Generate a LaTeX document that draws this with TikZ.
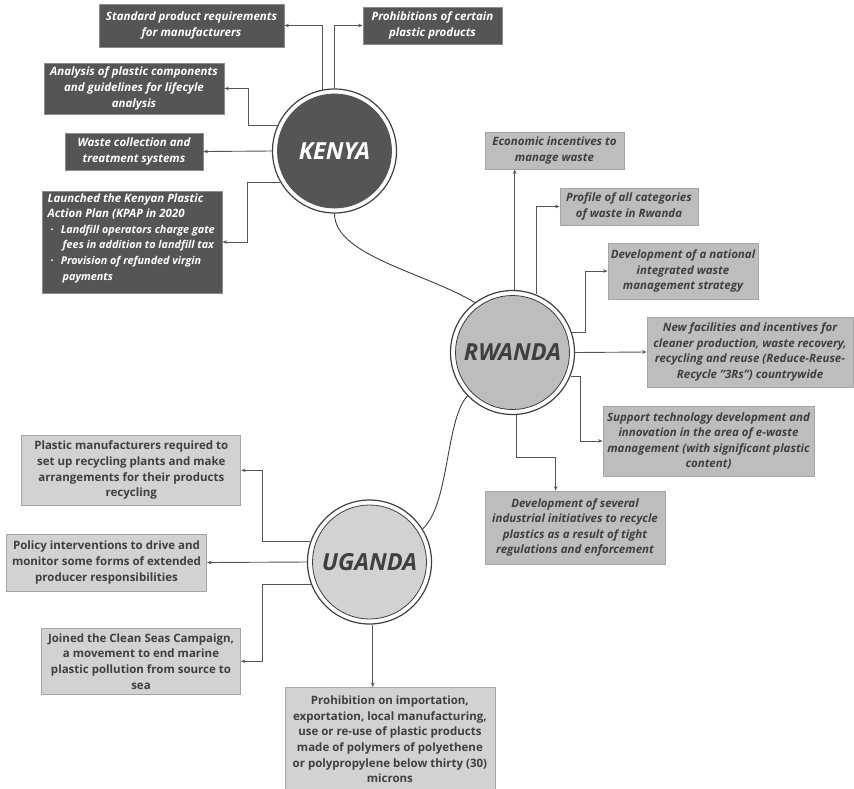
\documentclass[tikz,border=0pt]{standalone}
\usepackage{fontspec}
\setmainfont{Open Sans}
\usetikzlibrary{calc,arrows.meta}
\definecolor{kdark}{HTML}{545557}
\definecolor{kedge}{HTML}{8A8B8D}
\definecolor{rgray}{HTML}{BCBDBF}
\definecolor{ugray}{HTML}{D1D2D4}
\definecolor{bedge}{HTML}{A4A5A7}
\definecolor{txt}{HTML}{3F3F41}
\definecolor{lin}{HTML}{555557}
\newcommand\strq{\char34\relax}
\newcommand\itemfont{\fontsize{10.8}{15.6}\selectfont}
\begin{document}
\begin{tikzpicture}[x=1pt,y=-1pt,
  boxbase/.style={rectangle,inner sep=1pt,align=center,line width=0.8pt,
    font=\fontsize{11.5}{15.6}\selectfont\bfseries},
  kbox/.style={boxbase,fill=kdark,draw=kedge,text=white,font=\fontsize{11.5}{15.6}\selectfont\bfseries\itshape},
  rbox/.style={boxbase,fill=rgray,draw=bedge,text=txt,font=\fontsize{11.5}{15.6}\selectfont\bfseries\itshape},
  ubox/.style={boxbase,fill=ugray,draw=bedge,text=txt},
  outer/.style={circle,draw=txt,line width=1.2pt,fill=white,minimum size=124pt,inner sep=0pt},
  inner/.style={circle,draw=txt,line width=0.8pt,minimum size=114pt,inner sep=0pt,
    font=\fontsize{23.5}{28}\selectfont\bfseries\itshape},
  arr/.style={draw=lin,line width=0.9pt,-{Stealth[length=4.5pt,width=3.5pt]}},
  link/.style={draw=txt,line width=0.9pt}
]
\useasboundingbox (0,0) rectangle (854,788);

% ---------- KENYA ----------
\node[outer] (K) at (334.5,151) {};
\node[inner,fill=kdark,draw=kdark,text=white] (Kin) at (K.center) {KENYA};

\node[kbox,minimum width=185pt,minimum height=43pt] (k1) at (191.5,25.5)
  {Standard product requirements\\for manufacturers};
\node[kbox,minimum width=139pt,minimum height=37pt] (k2) at (432.5,25.5)
  {Prohibitions of certain\\plastic products};
\node[kbox,minimum width=180pt,minimum height=51pt] (k3) at (134,88.5)
  {Analysis of plastic components\\and guidelines for lifecyle\\analysis};
\node[kbox,minimum width=138pt,minimum height=37pt] (k4) at (134,151.5)
  {Waste collection and\\treatment systems};
\node[kbox,minimum width=180pt,minimum height=102pt] (k5) at (132,242) {};
\node[kbox,fill=none,draw=none,align=left,anchor=west] (k5t) at ($(k5.west)+(4.7,-4)$)
  {Launched the Kenyan Plastic\\Action Plan (KPAP in 2020\\
   \itemfont\hspace*{3pt}\textperiodcentered\hspace{7pt}Landfill operators charge gate\\
   \itemfont\hspace*{15pt}fees in addition to landfill tax\\
   \itemfont\hspace*{3pt}\textperiodcentered\hspace{7pt}Provision of refunded virgin\\
   \itemfont\hspace*{15pt}payments};

\draw[arr] (K.101) |- (k1.east);
\draw[arr] (K.90) |- (k2.west);
\draw[arr] (K.156) -| ($(k3.east)+(23.7,0)$) -- (k3.east);
\draw[arr] (K.west) -- (k4.east);
\draw[arr] (K.210) -| ($(k5.east)+(25,0)$) -- (k5.east);

% ---------- RWANDA ----------
\node[outer] (R) at (512.5,352.5) {};
\node[inner,fill=rgray,text=txt] (Rin) at (R.center) {RWANDA};

\node[rbox,minimum width=139pt,minimum height=37pt] (r1) at (554.5,150.5)
  {Economic incentives to\\manage waste};
\node[rbox,minimum width=138pt,minimum height=37pt] (r2) at (629,206.5)
  {Profile of all categories\\of waste in Rwanda};
\node[rbox,minimum width=150pt,minimum height=56pt] (r3) at (683,271)
  {Development of a national\\integrated waste\\management strategy};
\node[rbox,minimum width=206pt,minimum height=70pt] (r4) at (750,352)
  {New facilities and incentives for\\cleaner production, waste recovery,\\recycling and reuse (Reduce-Reuse-\\Recycle \strq3Rs\strq) countrywide};
\node[rbox,minimum width=211pt,minimum height=70pt] (r5) at (708.5,441)
  {Support technology development and\\innovation in the area of e-waste\\management (with significant plastic\\content)};
\node[rbox,minimum width=180pt,minimum height=73pt] (r6) at (575,527.5)
  {Development of several\\industrial initiatives to recycle\\plastics as a result of tight\\regulations and enforcement};

\draw[arr] (R.88) -- (R.88 |- r1.south);
\draw[arr] (R.68) |- (r2.west);
\draw[arr] (R.19) -| ($(r3.west)+(-22.3,0)$) -- (r3.west);
\draw[arr] (R.east) -- (r4.west);
\draw[arr] (R.-22) -| ($(r5.west)+(-22.3,0)$) -- (r5.west);
\draw[arr] (R.-86) |- ($(r6.north)+(-19.3,-33)$) -- ($(r6.north)+(-19.3,0)$);

% ---------- UGANDA ----------
\node[outer] (U) at (369.5,562) {};
\node[inner,fill=ugray,text=txt] (Uin) at (U.center) {UGANDA};

\node[ubox,minimum width=219pt,minimum height=70pt] (u1) at (131.3,470.3)
  {Plastic manufacturers required to\\set up recycling plants and make\\arrangements for their products\\recycling};
\node[ubox,minimum width=200pt,minimum height=57pt] (u2) at (106.5,562.5)
  {Policy interventions to drive and\\monitor some forms of extended\\producer responsibilities};
\node[ubox,minimum width=199pt,minimum height=66pt] (u3) at (141,661.3)
  {Joined the Clean Seas Campaign,\\a movement to end marine\\plastic pollution from source to\\sea};
\node[ubox,minimum width=210pt,minimum height=104pt,anchor=north] (u4) at (389.9,687)
  {Prohibition on importation,\\exportation, local manufacturing,\\use or re-use of plastic products\\made of polymers of polyethene\\or polypropylene below thirty (30)\\microns};

\draw[arr] (U.161) -| ($(u1.east)+(21,0)$) -- (u1.east);
\draw[arr] (U.west) -- (u2.east);
\draw[arr] (U.201) -| ($(u3.east)+(21.3,0)$) -- (u3.east);
\draw[arr] (U.-87) -- (U.-87 |- u4.north);

% ---------- links between countries ----------
\draw[link] (K.270) .. controls +(0,42) and +(-50,-30) .. (R.127);
\draw[link] (R.224) .. controls +(-22,23) and +(27,-24) .. (U.32);
\end{tikzpicture}
\end{document}
